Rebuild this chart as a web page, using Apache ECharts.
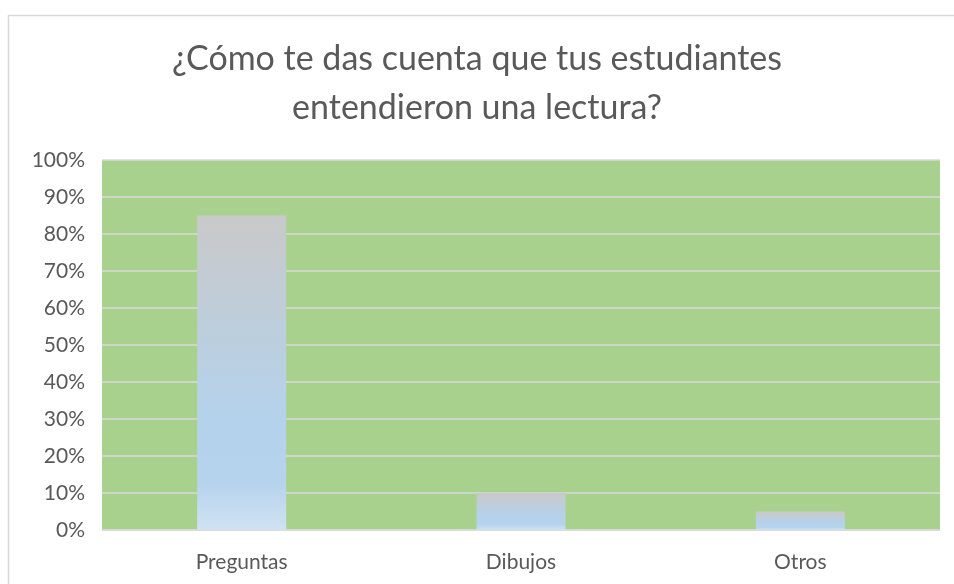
<!DOCTYPE html>
<html>
<head>
<meta charset="utf-8">
<script src="https://cdn.jsdelivr.net/npm/echarts@6/dist/echarts.min.js"></script>
<style>
  html, body { margin: 0; padding: 0; background: #fff; }
  #chart { width: 954px; height: 584px; }
</style>
</head>
<body>
<div id="chart"></div>
<script>
const categories = ['Preguntas', 'Dibujos', 'Otros'];
const values = [85, 10, 5];
const yTicks = [0, 10, 20, 30, 40, 50, 60, 70, 80, 90, 100];

const chart = echarts.init(document.getElementById('chart'));

const barFill = new echarts.graphic.LinearGradient(0, 0, 0, 1, [
  { offset: 0, color: '#C9C9C9' },
  { offset: 0.65, color: '#B4D2EC' },
  { offset: 0.85, color: '#B6D3ED' },
  { offset: 1, color: '#D0E2F2' }
]);

const option = {
  backgroundColor: '#fff',
  animation: false,
  textStyle: { fontFamily: 'Lato' },
  title: {
    text: '¿Cómo te das cuenta que tus estudiantes\nentendieron una lectura?',
    left: 'center',
    top: 30,
    textStyle: {
      fontFamily: 'Lato',
      fontSize: 34,
      fontWeight: 'normal',
      color: '#595959',
      lineHeight: 49
    }
  },
  graphic: [{
    type: 'rect',
    silent: true,
    shape: { x: 8.5, y: 15.5, width: 1200, height: 1000 },
    style: { fill: 'none', stroke: '#D9D9D9', lineWidth: 1.5 }
  }],
  grid: {
    left: 102,
    right: 14,
    top: 160,
    bottom: 54,
    show: true,
    backgroundColor: '#A9D18E',
    borderWidth: 0
  },
  xAxis: {
    type: 'category',
    data: categories,
    axisLine: { show: true, lineStyle: { color: '#D9D9D9', width: 1.5 } },
    axisTick: { show: false },
    axisLabel: { color: '#595959', fontSize: 21, margin: 22, fontFamily: 'Lato' }
  },
  yAxis: {
    type: 'value',
    min: 0,
    max: 100,
    interval: 10,
    axisLine: { show: false },
    axisTick: { show: false },
    splitLine: { lineStyle: { color: '#D9D9D9', width: 1.5 } },
    axisLabel: {
      color: '#595959',
      fontSize: 21,
      margin: 17,
      fontFamily: 'Lato',
      formatter: function (v) { return yTicks.indexOf(v) >= 0 ? v + '%' : ''; }
    }
  },
  series: [{
    type: 'bar',
    data: values,
    barWidth: 89,
    itemStyle: { color: barFill }
  }]
};

chart.setOption(option);
</script>
</body>
</html>
